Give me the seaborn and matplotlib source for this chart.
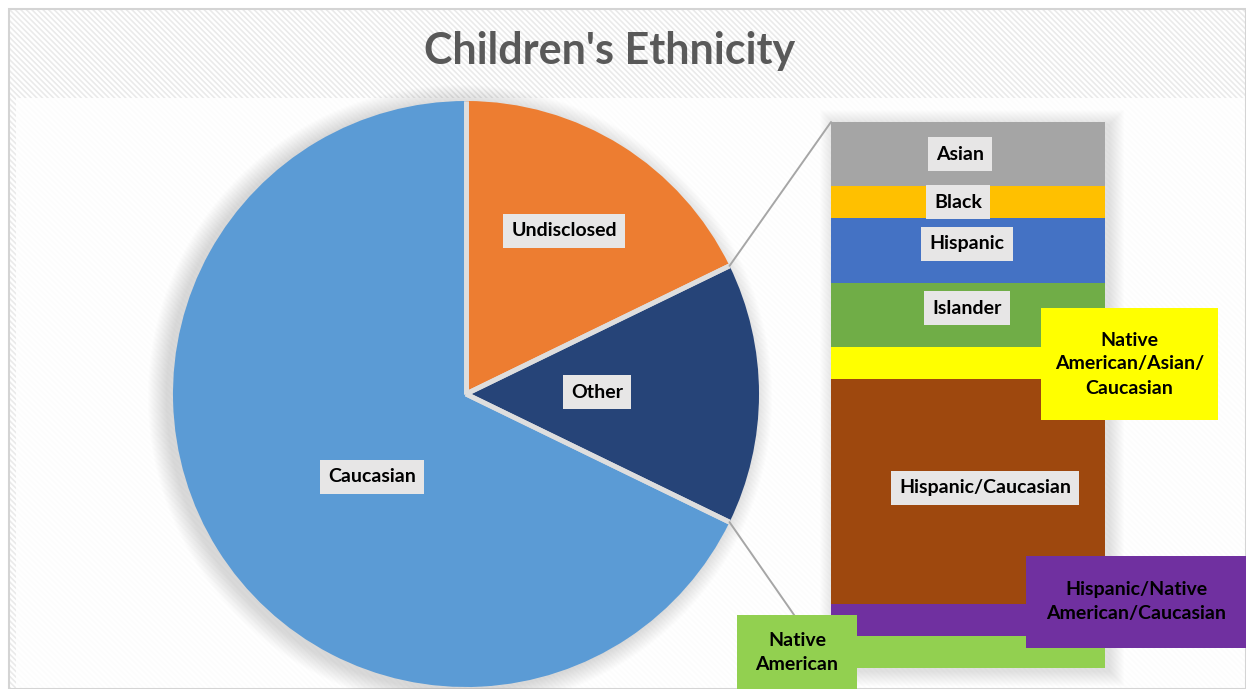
import numpy as np
import matplotlib
matplotlib.use("Agg")
import matplotlib.pyplot as plt
from matplotlib.patches import Rectangle, Circle
import seaborn as sns

# ---- data ----
pie_labels = ["Undisclosed", "Other", "Caucasian"]
bar_labels = ["Asian", "Black", "Hispanic", "Islander",
              "Native American/Asian/Caucasian", "Hispanic/Caucasian",
              "Hispanic/Native American/Caucasian", "Native American"]
bar_counts = [2, 1, 2, 2, 1, 7, 1, 1]
undisclosed_count = 21
caucasian_count = 80
pie_counts = [undisclosed_count, sum(bar_counts), caucasian_count]

pie_colors = ["#ED7D31", "#264478", "#5B9BD5"]
bar_colors = ["#A5A5A5", "#FFC000", "#4472C4", "#70AD47",
              "#FFFF00", "#9E480E", "#7030A0", "#92D050"]
title = "Children's Ethnicity"

# ---- figure setup (axes in pixel units) ----
sns.set_theme(style="white")
plt.rcParams["font.family"] = ["Lato", "DejaVu Sans"]
plt.rcParams["hatch.linewidth"] = 1.2
W, H = 1246, 689
fig = plt.figure(figsize=(W / 100, H / 100), dpi=100)
fig.patch.set_facecolor("white")
ax = fig.add_axes([0, 0, 1, 1])

# chart area: fine diagonal stripes, plain plot area below the title
ax.add_patch(Rectangle((9, 9), W - 9, H - 9, facecolor="white", edgecolor="#EAEAEA",
                       hatch="\\\\\\\\\\\\", linewidth=0, zorder=0))
ax.add_patch(Rectangle((16, 98), W - 16, H - 98, facecolor="white", alpha=0.88,
                       linewidth=0, zorder=0.3))
ax.add_patch(Rectangle((9, 9), W - 9, H - 9, fill=False, edgecolor="#D4D4D4",
                       linewidth=1.5, zorder=0.4))

# ---- primary pie ----
cx, cy, r = 466, 394, 293
total = sum(pie_counts)
# the combined slice is centred on the bar side
start_vis = (pie_counts[0] + pie_counts[1] / 2) / total * 360

# soft shadow behind the pie
for k in range(1, 20):
    ax.add_patch(Circle((cx - 6, cy + 3), r + k, facecolor="#7A7A7A", alpha=0.013,
                        linewidth=0, zorder=0.8))

wedges, _ = ax.pie(pie_counts, colors=pie_colors, startangle=-start_vis,
                   counterclock=True, center=(cx, cy), radius=r,
                   explode=[0, 0.012, 0.02],
                   wedgeprops=dict(linewidth=0))

# light separators along each slice's straight edges
for w in wedges:
    for th in (w.theta1, w.theta2):
        t = np.deg2rad(th)
        ax.plot([w.center[0], w.center[0] + w.r * np.cos(t)],
                [w.center[1], w.center[1] + w.r * np.sin(t)],
                color="#DEDEDE", lw=3.5, solid_capstyle="butt", zorder=1.2)

# ---- bar of the combined slice ----
bx0, by0, bw, bh = 831, 122, 274, 546

for k in range(1, 16):
    ax.add_patch(Rectangle((bx0 - k + 4, by0 - k + 3), bw + 2 * k, bh + 2 * k,
                           facecolor="#808080", alpha=0.012, linewidth=0, zorder=0.8))

# connector lines from the slice edges to the bar corners
w_other = wedges[1]
ends = []
for th in (w_other.theta1, w_other.theta2):
    t = np.deg2rad(th)
    ends.append((w_other.center[0] + w_other.r * np.cos(t),
                 w_other.center[1] + w_other.r * np.sin(t)))
ends.sort(key=lambda p: p[1])
ax.plot([ends[0][0], bx0], [ends[0][1], by0], color="#A6A6A6", lw=1.4, zorder=1.5)
ax.plot([ends[1][0], bx0], [ends[1][1], by0 + bh], color="#A6A6A6", lw=1.4, zorder=1.5)

ax.set_xlim(0, W)
ax.set_ylim(H, 0)
ax.set_aspect("auto")
ax.axis("off")

bax = fig.add_axes([bx0 / W, 1 - (by0 + bh) / H, bw / W, bh / H], zorder=2)
bottom = 0
for lab, cnt, col in zip(bar_labels, bar_counts, bar_colors):
    sns.barplot(x=[0], y=[cnt], bottom=bottom, color=col, width=1, ax=bax,
                errorbar=None, saturation=1, linewidth=0)
    bottom += cnt
bax.set_xlim(-0.5, 0.5)
bax.set_ylim(sum(bar_counts), 0)
bax.axis("off")

# ---- labels ----
lax = fig.add_axes([0, 0, 1, 1], zorder=3)
lax.set_xlim(0, W)
lax.set_ylim(H, 0)
lax.axis("off")

lax.text(610, 51, title, fontsize=31, fontweight="bold", color="#595959",
         ha="center", va="center")

fs = 14
box = dict(boxstyle="square,pad=0.42", facecolor="#E7E6E6", edgecolor="none")
simple_pos = {
    "Undisclosed": (564, 231),
    "Other": (597, 392),
    "Caucasian": (372, 477),
    "Asian": (960, 154),
    "Black": (958, 202),
    "Hispanic": (967, 244),
    "Islander": (967, 308),
    "Hispanic/Caucasian": (985, 488),
}
for name, (x, y) in simple_pos.items():
    lax.text(x, y, name, fontsize=fs, fontweight="bold", color="black",
             ha="center", va="center", bbox=box)

callouts = {
    "Native American/Asian/Caucasian": ((1041, 308, 177, 112), "Native\nAmerican/Asian/\nCaucasian"),
    "Hispanic/Native American/Caucasian": ((1026, 556, 220, 92), "Hispanic/Native\nAmerican/Caucasian"),
    "Native American": ((737, 615, 120, 74), "Native\nAmerican"),
}
for name, ((x, y, w, h), text) in callouts.items():
    col = bar_colors[bar_labels.index(name)]
    lax.add_patch(Rectangle((x, y), w, h, facecolor=col, edgecolor="none"))
    lax.text(x + w / 2, y + h / 2, text, fontsize=fs, fontweight="bold",
             color="black", ha="center", va="center", linespacing=1.5,
             multialignment="center")

fig.savefig("out.png", dpi=100)
